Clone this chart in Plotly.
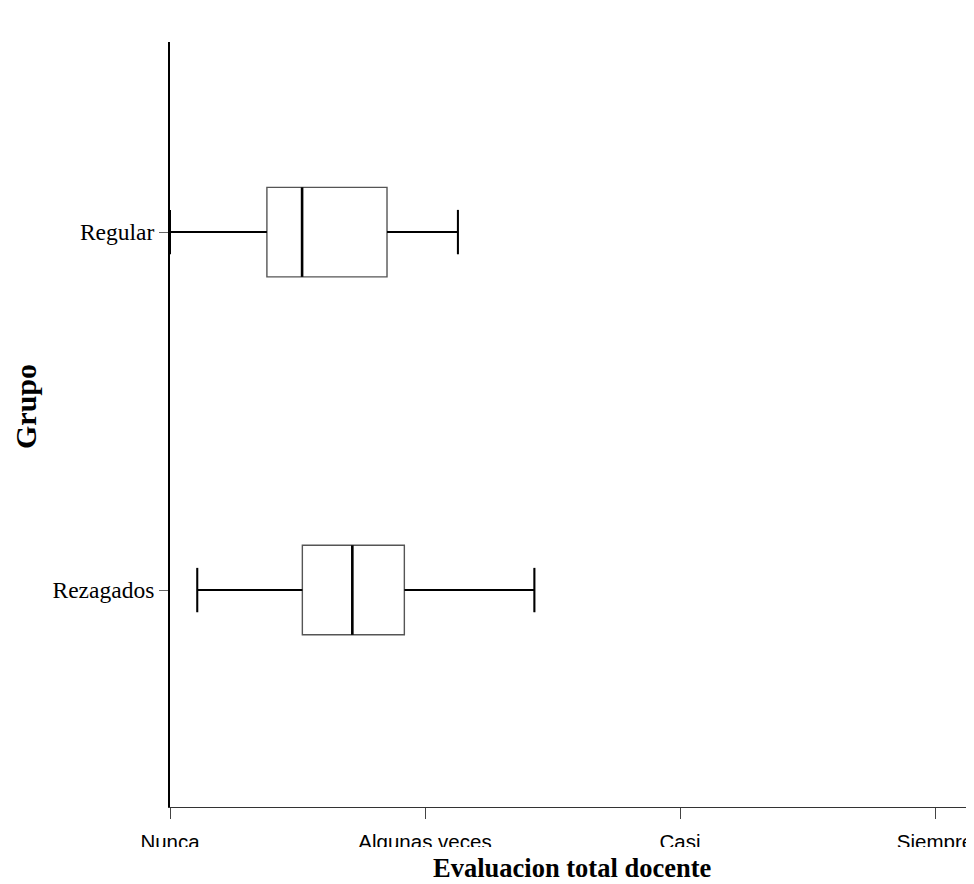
import plotly.graph_objects as go

# ---- data ----
groups = ["Regular", "Rezagados"]
lower_whisker = [1.00, 1.107]
q1 = [1.380, 1.519]
median = [1.518, 1.715]
q3 = [1.851, 1.919]
upper_whisker = [2.129, 2.429]
tick_values = [1, 2, 3, 4]
tick_labels = ["Nunca", "Algunas veces", "Casi", "Siempre"]

# ---- layout / style constants ----
group_pos = {"Regular": 1, "Rezagados": 0}
BOX_W = 0.25
CAP_HALF = 0.062
SERIF = "Liberation Serif, Times New Roman, serif"
W, H = 974, 884
ML, MR, MT, MB = 162, 0, 34, 85   # page body has an 8px offset
PLOT_H = H - MT - MB
PLOT_W = W - ML - MR

ys = [group_pos[g] for g in groups]

fig = go.Figure()
fig.add_trace(go.Box(
    orientation="h", y=ys,
    q1=q1, median=median, q3=q3,
    lowerfence=lower_whisker, upperfence=upper_whisker,
    width=BOX_W, whiskerwidth=0.49,
    fillcolor="white", line=dict(color="#555555", width=1.4),
    boxpoints=False, hoverinfo="skip", showlegend=False,
))

for i, g in enumerate(groups):
    p = group_pos[g]
    fig.add_trace(go.Scatter(
        x=[lower_whisker[i], q1[i], None, q3[i], upper_whisker[i]],
        y=[p, p, None, p, p], mode="lines",
        line=dict(color="black", width=2), hoverinfo="skip", showlegend=False))
    fig.add_trace(go.Scatter(
        x=[lower_whisker[i], lower_whisker[i], None, upper_whisker[i], upper_whisker[i]],
        y=[p - CAP_HALF, p + CAP_HALF, None, p - CAP_HALF, p + CAP_HALF], mode="lines",
        line=dict(color="black", width=2), hoverinfo="skip", showlegend=False))
    fig.add_trace(go.Scatter(
        x=[median[i], median[i]], y=[p - BOX_W / 2, p + BOX_W / 2], mode="lines",
        line=dict(color="black", width=2.6), hoverinfo="skip", showlegend=False))

# white band that clips the lower part of the x tick labels, as in the reference
fig.add_shape(type="rect", xref="paper", yref="paper", layer="above",
              x0=-0.3, x1=1.1,
              y0=-(46 / PLOT_H), y1=-(40 / PLOT_H),
              fillcolor="white", line=dict(width=0))

# axis titles placed as in the reference
fig.add_annotation(text="Grupo", textangle=-90, showarrow=False,
                   xref="paper", yref="paper",
                   x=(17 - ML) / PLOT_W, y=(H - MB - 399) / PLOT_H,
                   xanchor="center", yanchor="middle",
                   font=dict(family=SERIF, size=30, color="black", weight="bold"))
fig.add_annotation(text="Evaluacion total docente", showarrow=False,
                   xref="paper", yref="paper",
                   x=(564 - ML) / PLOT_W, y=-((H - 7) - (H - MB)) / PLOT_H,
                   xanchor="center", yanchor="bottom",
                   font=dict(family=SERIF, size=26.5, color="black", weight="bold"))

fig.update_layout(
    width=W, height=H,
    margin=dict(l=ML, r=MR, t=MT, b=MB),
    paper_bgcolor="white", plot_bgcolor="white",
    xaxis=dict(
        range=[1, 1 + (W + 8 - 170) / 255], tickvals=tick_values, ticktext=tick_labels,
        ticks="outside", ticklen=11, tickcolor="#444444", tickwidth=1,
        ticklabelstandoff=5,
        showline=True, linecolor="#333333", linewidth=1,
        showgrid=False, zeroline=False,
        tickfont=dict(family="Liberation Sans, Arial, sans-serif", size=20.5, color="black"),
    ),
    yaxis=dict(
        range=[-0.606, 1.531], tickvals=ys, ticktext=groups,
        ticks="outside", ticklen=9, tickcolor="#666666", tickwidth=1,
        showline=True, linecolor="black", linewidth=2,
        showgrid=False, zeroline=False,
        tickfont=dict(family=SERIF, size=23.5, color="black"),
    ),
)

fig.write_html("out.html")
